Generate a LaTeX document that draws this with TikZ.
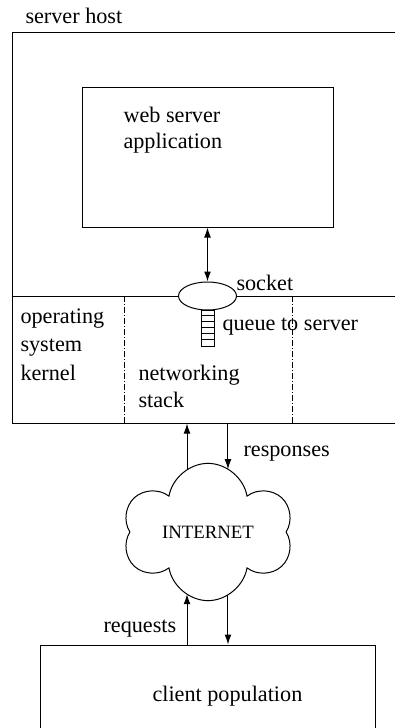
\documentclass[tikz,border=0pt]{standalone}
\usepackage{fontspec}
\setmainfont{Liberation Serif}
\usetikzlibrary{arrows.meta,shapes.geometric,shapes.symbols,intersections}

\tikzset{
  box/.style={draw, rectangle, inner sep=0pt},
  txt/.style={inner sep=0pt, anchor=base west, align=left},
  part/.style={dash pattern=on 3pt off 1pt on 0.5pt off 1pt},
  arr/.style={-{Latex[length=5pt,width=3.4pt]}},
  dblarr/.style={{Latex[length=5pt,width=3.4pt]}-{Latex[length=5pt,width=3.4pt]}},
}

\begin{document}
\begin{tikzpicture}[x=0.5pt, y=-0.5pt, line width=0.5pt, font=\fontsize{11.1}{13}\selectfont]
\useasboundingbox (0,0) rectangle (395,728);
% boxes
\node[box, minimum width=195pt, minimum height=195.5pt] (host) at (207,227.5) {};
\node[box, minimum width=125.5pt, minimum height=70pt] (web) at (207.5,157) {};
\node[draw, ellipse, inner sep=0pt, minimum width=29pt, minimum height=14pt, fill=white] (sock) at (207.5,296) {};
\node[box, minimum width=6.5pt, minimum height=18pt] (queue) at (207.5,328) {};
\foreach \i in {1,...,5}
  \draw ([yshift=-\i*3pt]queue.north west) -- ([yshift=-\i*3pt]queue.north east);
\node[box, minimum width=167.5pt, minimum height=62.5pt] (client) at (207.5,707.5) {};
\node[draw, cloud, cloud puffs=6, cloud puff arc=160, aspect=1.36, inner sep=0pt, minimum width=85pt, minimum height=62.5pt,
  name path=inetpath, font=\fontsize{9.4}{11}\selectfont] (inet) at (208,532) {INTERNET};

% kernel line and dividers
\draw (host.west |- sock) -- (sock.west);
\draw (sock.east) -- (host.east |- sock);
\coordinate (div1) at (124,296);
\coordinate (div2) at (292,296);
\draw[part] (div1) -- (div1 |- host.south);
\draw[part] (div2) -- (div2 |- host.south);

% labels
\node[txt] (hostlbl) at (25,24) {server host};
\node[txt] (weblbl) at (123,148) {web server\\application};
\node[txt] (socklbl) at (236,290) {socket};
\node[txt] (queuelbl) at (222,330) {queue to server};
\node[txt, font=\fontsize{11.1}{14.25}\selectfont] (oslbl) at (20,380) {operating\\system\\kernel};
\node[txt, font=\fontsize{11.1}{13.5}\selectfont] (netlbl) at (138,407) {networking\\stack};
\node[txt] (resplbl) at (243,456) {responses};
\node[txt] (reqlbl) at (103,632) {requests};
\node[txt] (clientlbl) at (152,701) {client population};

% arrows
\draw[dblarr] (web.south) -- (sock.north);
\path[name path=upline] (187,440) -- (187,630);
\path[name path=dnline] (228,440) -- (228,630);
\path[name intersections={of=upline and inetpath, sort by=upline, name=u}];
\path[name intersections={of=dnline and inetpath, sort by=dnline, name=d}];
\coordinate (inup) at (u-1);
\coordinate (outup) at (u-2);
\coordinate (indn) at (d-1);
\coordinate (outdn) at (d-2);
\draw[arr] (inup) -- (inup |- host.south);
\draw[arr] (indn |- host.south) -- (indn);
\draw[arr] (outup |- client.north) -- (outup);
\draw[arr] (outdn) -- (outdn |- client.north);
\end{tikzpicture}
\end{document}
